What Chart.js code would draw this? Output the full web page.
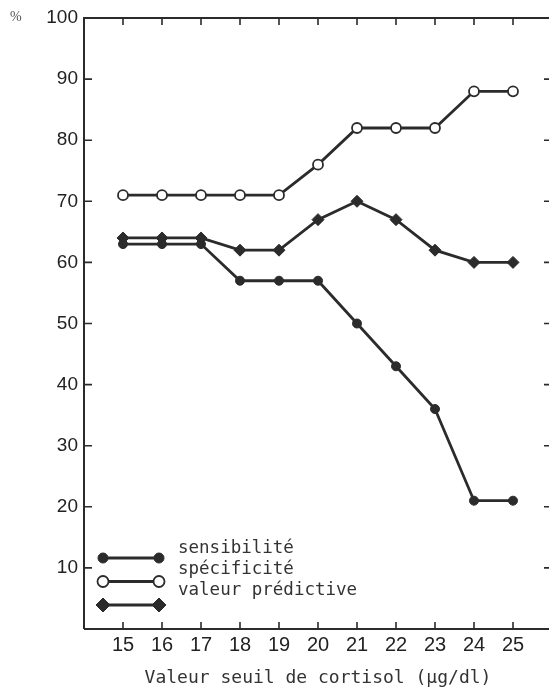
<!DOCTYPE html>
<html>
<head>
<meta charset="utf-8">
<script src="https://cdn.jsdelivr.net/npm/chart.js@4.4.0/dist/chart.umd.min.js"></script>
<style>
  html, body { margin: 0; padding: 0; background: #fff; overflow: hidden; }
  canvas { display: block; }
</style>
</head>
<body>
<canvas id="chart" width="560" height="691"></canvas>
<script>
// Seuils de cortisol (axe x) et pourcentages par série
const seuils = [15, 16, 17, 18, 19, 20, 21, 22, 23, 24, 25];
const sensibilite = [63, 63, 63, 57, 57, 57, 50, 43, 36, 21, 21];
const specificite = [71, 71, 71, 71, 71, 76, 82, 82, 82, 88, 88];
const valeurPredictive = [64, 64, 64, 62, 62, 67, 70, 67, 62, 60, 60];
const yTicks = [10, 20, 30, 40, 50, 60, 70, 80, 90, 100];
const seriesLabels = ['sensibilité', 'spécificité', 'valeur prédictive'];
const axisTitle = 'Valeur seuil de cortisol (µg/dl)';
const unitLabel = '%';

const ink = '#2b2b2b';
const mono = '"DejaVu Sans Mono", monospace';

function points(values) {
  return seuils.map((x, i) => ({ x: x, y: values[i] }));
}

// cadre avec petites graduations vers l'intérieur sur les quatre côtés
const framePlugin = {
  id: 'frame',
  beforeDatasetsDraw(chart) {
    const { ctx, chartArea: a, scales } = chart;
    ctx.save();
    ctx.strokeStyle = ink;
    ctx.lineWidth = 2;
    ctx.beginPath();
    ctx.moveTo(a.left, a.bottom);
    ctx.lineTo(a.left, a.top);
    ctx.lineTo(a.right, a.top);
    ctx.lineTo(a.right, a.bottom);
    ctx.lineTo(a.left, a.bottom);
    ctx.stroke();

    ctx.lineWidth = 1.6;
    ctx.beginPath();
    scales.x.ticks.forEach(t => {
      const px = scales.x.getPixelForValue(t.value);
      ctx.moveTo(px, a.top);
      ctx.lineTo(px, a.top + 7);
      ctx.moveTo(px, a.bottom);
      ctx.lineTo(px, a.bottom - 7);
    });
    scales.y.ticks.forEach(t => {
      if (t.value <= scales.y.min || t.value >= scales.y.max) return;
      const py = scales.y.getPixelForValue(t.value);
      ctx.moveTo(a.left, py);
      ctx.lineTo(a.left + 8, py);
      ctx.moveTo(a.right, py);
      ctx.lineTo(a.right - 8, py);
    });
    ctx.stroke();

    ctx.fillStyle = '#555';
    ctx.font = '14px "Liberation Serif"';
    ctx.textBaseline = 'top';
    ctx.fillText(unitLabel, 10, 10);
    ctx.restore();
  },
  afterDraw(chart) {
    // légende : segment avec un marqueur à chaque extrémité
    const { ctx } = chart;
    ctx.save();
    chart.data.datasets.forEach((ds, i) => {
      const y = 558 + i * 23.5;
      ctx.strokeStyle = ink;
      ctx.lineWidth = 2.8;
      ctx.beginPath();
      ctx.moveTo(103, y);
      ctx.lineTo(159, y);
      ctx.stroke();
      const opts = {
        pointStyle: ds.pointStyle,
        radius: ds.pointStyle === 'rectRot' ? 7 : ds.pointRadius + 0.5,
        rotation: 0,
        borderWidth: ds.pointBorderWidth
      };
      [103, 159].forEach(x => {
        ctx.fillStyle = ds.pointBackgroundColor;
        ctx.strokeStyle = ds.pointBorderColor;
        ctx.lineWidth = ds.pointBorderWidth;
        Chart.helpers.drawPoint(ctx, opts, x, y);
      });
      ctx.fillStyle = '#333';
      ctx.font = '17.5px ' + mono;
      ctx.textBaseline = 'alphabetic';
      ctx.fillText(ds.label, 178, 553 + i * 21);
    });
    ctx.restore();
  }
};

Chart.defaults.font.family = '"Liberation Sans", Arial, sans-serif';
Chart.defaults.color = '#222';

new Chart(document.getElementById('chart'), {
  type: 'line',
  data: {
    datasets: [
      {
        label: seriesLabels[0],
        data: points(sensibilite),
        borderColor: ink,
        borderWidth: 2.8,
        pointStyle: 'circle',
        pointRadius: 4.5,
        pointBackgroundColor: ink,
        pointBorderColor: ink,
        pointBorderWidth: 1
      },
      {
        label: seriesLabels[1],
        data: points(specificite),
        borderColor: ink,
        borderWidth: 2.8,
        pointStyle: 'circle',
        pointRadius: 5,
        pointBackgroundColor: '#fff',
        pointBorderColor: ink,
        pointBorderWidth: 1.8
      },
      {
        label: seriesLabels[2],
        data: points(valeurPredictive),
        borderColor: ink,
        borderWidth: 2.8,
        pointStyle: 'rectRot',
        pointRadius: 6,
        pointBackgroundColor: ink,
        pointBorderColor: ink,
        pointBorderWidth: 1
      }
    ]
  },
  options: {
    responsive: false,
    animation: false,
    events: [],
    layout: { padding: { top: 18, right: 8, bottom: 0, left: 0 } },
    plugins: {
      legend: { display: false },
      tooltip: { enabled: false }
    },
    scales: {
      x: {
        type: 'linear',
        min: 14,
        max: 26,
        afterBuildTicks: scale => {
          scale.ticks = seuils.map(v => ({ value: v }));
        },
        afterFit: scale => { scale.height = 62; },
        grid: { display: false, drawTicks: false },
        border: { display: false },
        ticks: {
          padding: 4,
          font: { size: 20 },
          color: '#222',
          maxRotation: 0,
          autoSkip: false
        },
        title: {
          display: true,
          text: axisTitle,
          font: { family: mono, size: 18 },
          color: '#333',
          padding: { top: 4, bottom: 2 }
        }
      },
      y: {
        min: 0,
        max: 100,
        afterBuildTicks: scale => {
          scale.ticks = [0].concat(yTicks).map(v => ({ value: v }));
        },
        afterFit: scale => { scale.width = 84; },
        grid: { display: false, drawTicks: false },
        border: { display: false },
        ticks: {
          padding: 6,
          font: { size: 19 },
          color: '#222',
          callback: v => (v === 0 ? null : v)
        }
      }
    }
  },
  plugins: [framePlugin]
});
</script>
</body>
</html>
